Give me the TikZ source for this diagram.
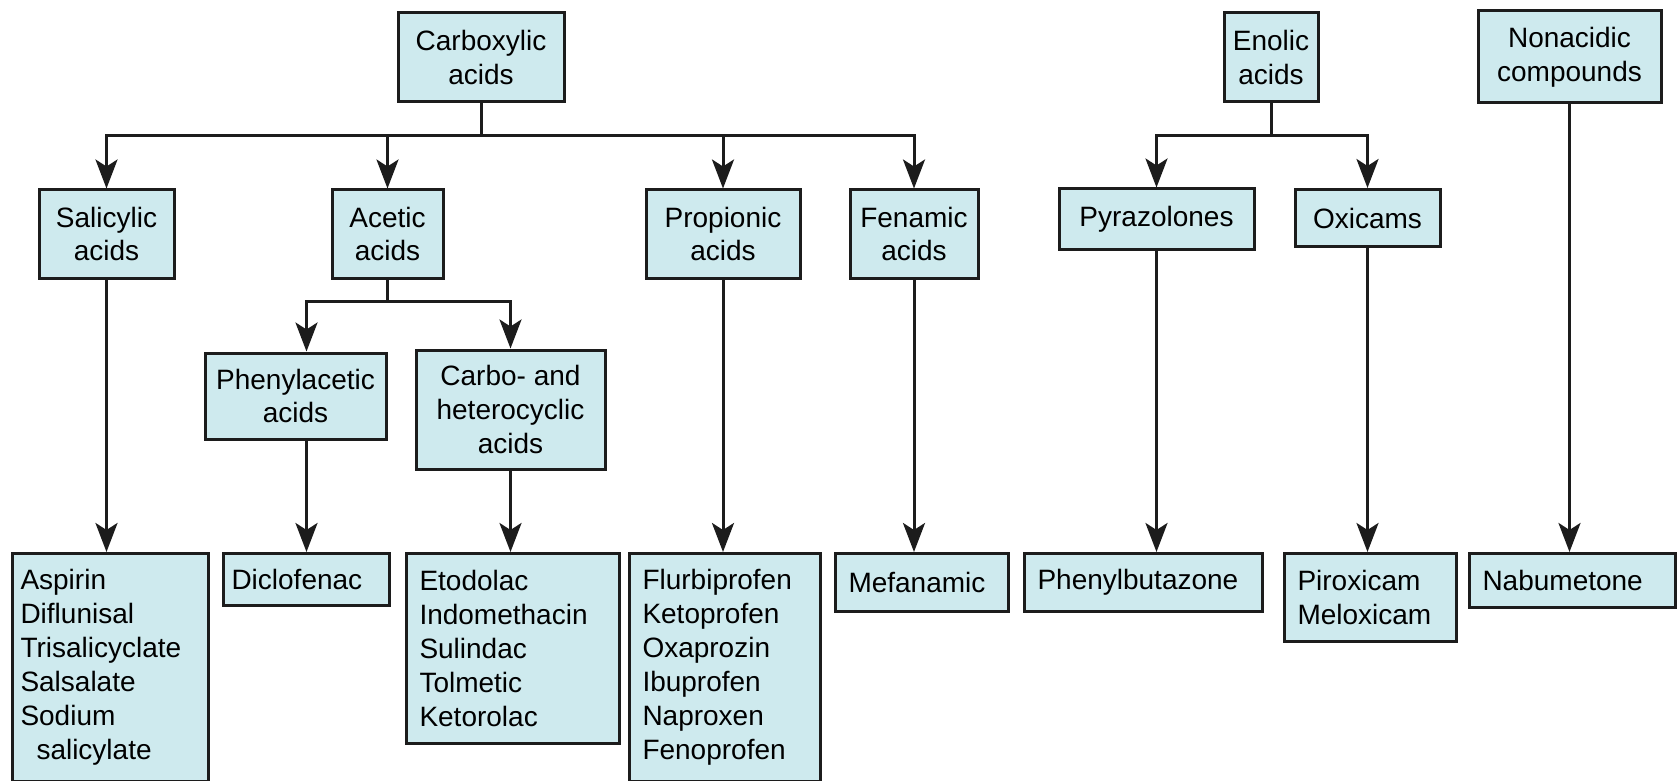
\documentclass[tikz,border=0pt]{standalone}
\usepackage{fontspec}
\setmainfont{Liberation Sans}
\usepackage{tikz}
\usetikzlibrary{arrows.meta, positioning}
\definecolor{boxfill}{RGB}{206,234,238}
\definecolor{boxline}{RGB}{28,28,28}
\tikzset{
  catbox/.style={rectangle, draw=boxline, fill=boxfill, line width=1.5pt,
    align=center, inner sep=3pt, font=\fontsize{14}{16.8}\selectfont},
  drugbox/.style={rectangle, draw=boxline, fill=boxfill, line width=1.5pt,
    align=left, anchor=north west, inner xsep=6.5pt, inner ysep=3pt,
    font=\fontsize{14}{17}\selectfont},
  arrow/.style={-{Stealth[length=14.5pt, width=11pt, inset=3.5pt]}, line width=1.5pt, color=boxline},
  line/.style={line width=1.5pt, color=boxline}
}

\begin{document}
\begin{tikzpicture}[x=0.5pt, y=-0.5pt]
  \useasboundingbox (0,0) rectangle (1678,781);
  \clip (0,0) rectangle (1678,781);

  % Top level
  \node[catbox, minimum width=83pt, minimum height=44.5pt] (carb) at (481,57.5) {Carboxylic\\acids};
  \node[catbox, minimum width=47pt, minimum height=44.5pt] (enol) at (1271,57.5) {Enolic\\acids};
  \node[catbox, minimum width=91.5pt, minimum height=46pt] (nonac) at (1569.5,57) {Nonacidic\\compounds};

  % Second level
  \node[catbox, minimum width=67.5pt, minimum height=44pt] (salic) at (106.5,234) {Salicylic\\acids};
  \node[catbox, minimum width=55.5pt, minimum height=44pt] (acetic) at (387.5,234) {Acetic\\acids};
  \node[catbox, minimum width=77pt, minimum height=44pt] (propion) at (723,234) {Propionic\\acids};
  \node[catbox, minimum width=64pt, minimum height=44pt] (fenam) at (914,234) {Fenamic\\acids};
  \node[catbox, minimum width=97.5pt, minimum height=30.5pt] (pyraz) at (1156.5,219.5) {Pyrazolones};
  \node[catbox, minimum width=72.5pt, minimum height=28.5pt] (oxic) at (1367.5,218) {Oxicams};

  % Acetic acid subgroups
  \node[catbox, minimum width=90.5pt, minimum height=43pt] (phenyl) at (295.5,396) {Phenylacetic\\acids};
  \node[catbox, minimum width=94.5pt, minimum height=59.5pt] (hetero) at (510.5,409.5) {Carbo- and\\heterocyclic\\acids};

  % Drugs
  \node[drugbox, inner xsep=4pt, text width=90pt, minimum height=114pt] (aspirin) at (11,552)
    {Aspirin\\Diflunisal\\Trisalicyclate\\Salsalate\\Sodium\\\hspace*{8pt}salicylate};
  \node[drugbox, inner xsep=4pt, text width=75pt, minimum height=26pt] (diclo) at (222,552) {Diclofenac};
  \node[drugbox, text width=93.5pt, minimum height=95pt] (etodo) at (405,552)
    {Etodolac\\Indomethacin\\Sulindac\\Tolmetic\\Ketorolac};
  \node[drugbox, text width=82.5pt, minimum height=114pt] (flurbi) at (628,552)
    {Flurbiprofen\\Ketoprofen\\Oxaprozin\\Ibuprofen\\Naproxen\\Fenoprofen};
  \node[drugbox, text width=73.5pt, minimum height=29pt] (mefan) at (834,552) {Mefanamic};
  \node[drugbox, text width=106pt, minimum height=29pt] (phenylb) at (1023,552) {Phenylbutazone};
  \node[drugbox, text width=73pt, minimum height=44pt] (pirox) at (1283,552) {Piroxicam\\Meloxicam};
  \node[drugbox, text width=90pt, minimum height=27pt] (nabum) at (1468,552) {Nabumetone};

  % Junctions
  \path (carb.south) ++(0,32) coordinate (carbj);
  \path (enol.south) ++(0,32) coordinate (enolj);
  \path (acetic.south) ++(0,22) coordinate (acetj);

  % Connections
  \draw[line] (carb.south) -- (carbj);
  \draw[arrow] (carbj) -| (salic.north);
  \draw[arrow] (carbj) -| (acetic.north);
  \draw[arrow] (carbj) -| (propion.north);
  \draw[arrow] (carbj) -| (fenam.north);

  \draw[line] (enol.south) -- (enolj);
  \draw[arrow] (enolj) -| (pyraz.north);
  \draw[arrow] (enolj) -| (oxic.north);

  \draw[line] (acetic.south) -- (acetj);
  \draw[arrow] (acetj) -| (phenyl.north -| diclo.north);
  \draw[arrow] (acetj) -| (hetero.north);

  \draw[arrow] (salic.south) -- (salic.south |- aspirin.north);
  \draw[arrow] (phenyl.south -| diclo.north) -- (diclo.north);
  \draw[arrow] (hetero.south) -- (hetero.south |- etodo.north);
  \draw[arrow] (propion.south) -- (propion.south |- flurbi.north);
  \draw[arrow] (fenam.south) -- (fenam.south |- mefan.north);
  \draw[arrow] (pyraz.south) -- (pyraz.south |- phenylb.north);
  \draw[arrow] (oxic.south) -- (oxic.south |- pirox.north);
  \draw[arrow] (nonac.south) -- (nonac.south |- nabum.north);
\end{tikzpicture}
\end{document}
